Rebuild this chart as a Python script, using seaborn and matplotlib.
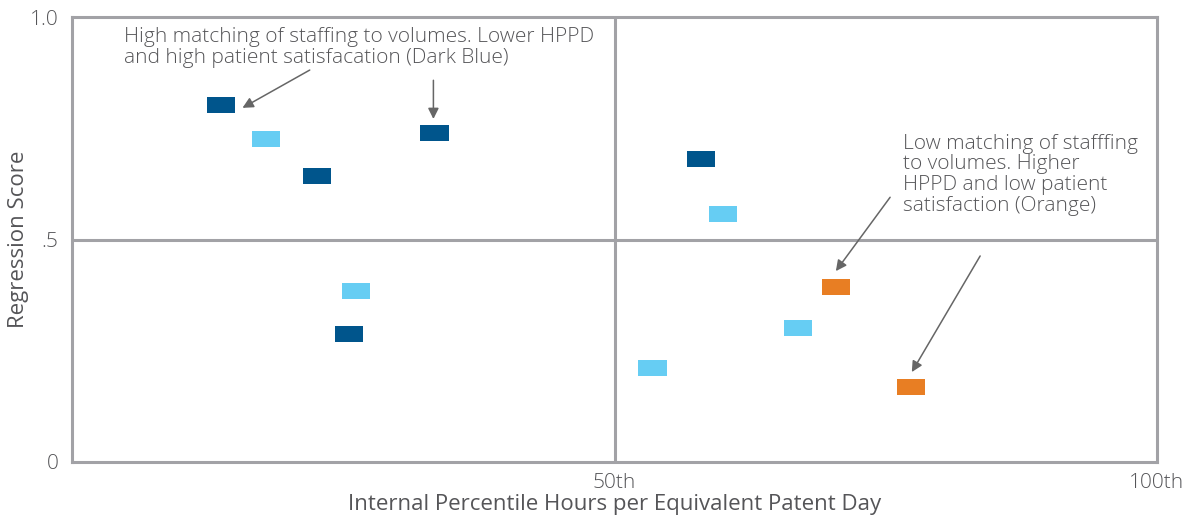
import numpy as np
import pandas as pd
import matplotlib
matplotlib.use("Agg")
import matplotlib.pyplot as plt
import seaborn as sns

# Units
groups = ["Dark Blue", "Dark Blue", "Dark Blue", "Dark Blue", "Dark Blue",
          "Light Blue", "Light Blue", "Light Blue", "Light Blue", "Light Blue",
          "Orange", "Orange"]
percentile = [13.7, 22.6, 25.5, 33.4, 58.0,
              17.9, 26.2, 53.5, 60.0, 66.9,
              70.4, 77.3]
score = [0.802, 0.643, 0.288, 0.739, 0.681,
         0.726, 0.384, 0.211, 0.557, 0.301,
         0.393, 0.169]

colors = {"Dark Blue": "#00558C", "Light Blue": "#66CDF3", "Orange": "#E87E23"}
x_ticks = [50, 100]
x_tick_labels = ["50th", "100th"]
y_ticks = [0, 0.5, 1.0]
y_tick_labels = ["0", ".5", "1.0"]

df = pd.DataFrame({"Group": groups, "Percentile": percentile, "Score": score})

sns.set_style("white")
plt.rcParams["font.family"] = ["Open Sans", "DejaVu Sans"]
plt.rcParams["font.weight"] = "light"
text_col = "#555558"
line_col = "#A2A2A6"

fig = plt.figure(figsize=(11.83, 5.19), dpi=100)
ax = fig.add_axes([0.061, 0.110, 0.917, 0.857])

rect = [(-1.75, -1), (1.75, -1), (1.75, 1), (-1.75, 1), (-1.75, -1)]
sns.scatterplot(data=df, x="Percentile", y="Score", hue="Group", palette=colors,
                marker=rect, s=410, linewidth=0, legend=False, ax=ax, zorder=3)

ax.set_xlim(0, 100)
ax.set_ylim(0, 1.0)

# quadrant lines
ax.axvline(50, color=line_col, lw=2.2, zorder=1)
ax.axhline(0.5, color=line_col, lw=2.2, zorder=1)
for sp in ax.spines.values():
    sp.set_color(line_col)
    sp.set_linewidth(2.2)

ax.set_xticks(x_ticks)
ax.set_xticklabels(x_tick_labels)
ax.set_yticks(y_ticks)
ax.set_yticklabels(y_tick_labels)
ax.tick_params(axis="both", length=0, labelsize=15, labelcolor=text_col)
ax.tick_params(axis="x", pad=8)
ax.tick_params(axis="y", pad=10)

ax.set_xlabel("Internal Percentile Hours per Equivalent Patent Day",
              fontsize=16, color=text_col, labelpad=1)
ax.set_ylabel("Regression Score", fontsize=16, color=text_col)
ax.yaxis.set_label_coords(-0.04, 0.5)

ax.text(4.8, 0.978, "High matching of staffing to volumes. Lower HPPD\n"
        "and high patient satisfacation (Dark Blue)",
        fontsize=15, color=text_col, va="top", ha="left", linespacing=1.05)
ax.text(76.6, 0.738, "Low matching of stafffing\nto volumes. Higher\n"
        "HPPD and low patient\nsatisfaction (Orange)",
        fontsize=15, color=text_col, va="top", ha="left", linespacing=1.05)

arrow = dict(arrowstyle="-|>", color="#666666", lw=1.1, mutation_scale=16,
             shrinkA=0, shrinkB=0)
for tail, head in [((21.9, 0.881), (15.7, 0.796)),
                   ((33.3, 0.858), (33.3, 0.771)),
                   ((75.4, 0.595), (70.4, 0.429)),
                   ((83.7, 0.463), (77.4, 0.202))]:
    ax.annotate("", xy=head, xytext=tail, arrowprops=arrow)

fig.savefig("out.png", dpi=100)
